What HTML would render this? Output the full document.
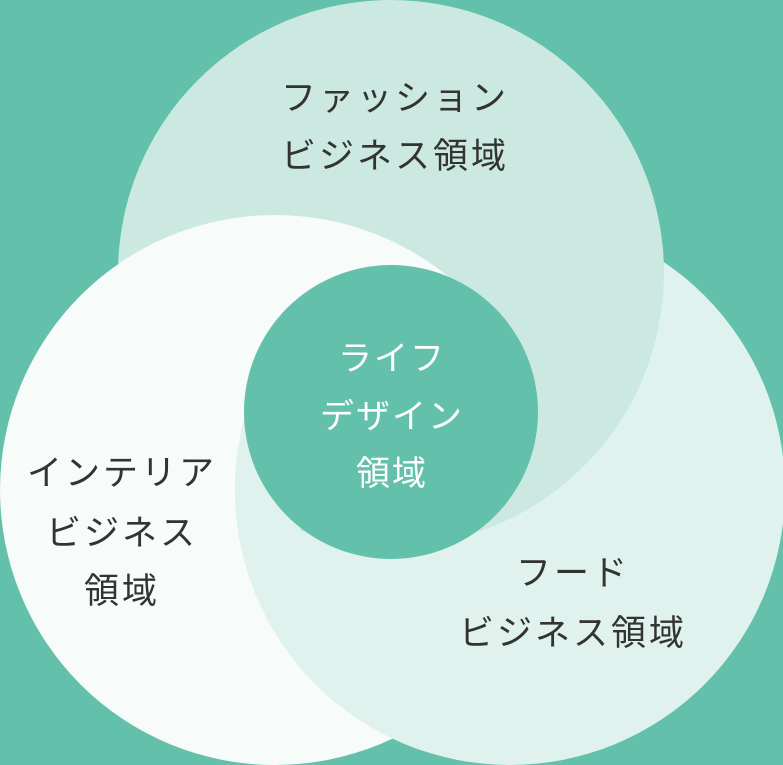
<!DOCTYPE html>
<html><head><meta charset="utf-8"><style>
html,body{margin:0;padding:0;background:#63c0aa;}
svg{display:block}
text{font-family:"Liberation Sans","Noto Sans CJK JP",sans-serif;font-size:34px;text-anchor:middle;letter-spacing:2px}
.d text{font-size:35px;letter-spacing:3px}
</style></head><body>
<svg width="783" height="765" viewBox="0 0 783 765">
<defs>
<clipPath id="r"><circle cx="510" cy="490" r="275"/></clipPath>
<clipPath id="f"><circle cx="391" cy="273" r="272"/></clipPath>
<clipPath id="t"><rect x="0" y="0" width="470" height="330"/></clipPath>
<clipPath id="b"><rect x="0" y="330" width="300" height="435"/></clipPath>
</defs>
<rect width="783" height="765" fill="#63c0aa"/>
<circle cx="391" cy="273" r="273" fill="#cbe9e1"/>
<circle cx="275" cy="490" r="275" fill="#f7fbfa"/>
<circle cx="510" cy="490" r="275" fill="#dff2ed"/>
<circle cx="391" cy="273" r="273" fill="#cbe9e1" clip-path="url(#r)"/>
<g clip-path="url(#t)"><g clip-path="url(#r)"><circle cx="275" cy="490" r="275" fill="#f7fbfa" clip-path="url(#f)"/></g></g>
<g clip-path="url(#b)"><circle cx="510" cy="490" r="275" fill="#dff2ed"/></g>
<circle cx="391" cy="412" r="147" fill="#63c0aa"/>
<g fill="#333" class="d">
<text x="395" y="110">ファッション</text>
<text x="395" y="168">ビジネス領域</text>
<text x="122" y="485">インテリア</text>
<text x="122" y="545">ビジネス</text>
<text x="122" y="603">領域</text>
<text x="573" y="585">フード</text>
<text x="573" y="645">ビジネス領域</text>
</g>
<g fill="#fff">
<text x="392" y="370">ライフ</text>
<text x="392" y="428">デザイン</text>
<text x="392" y="485">領域</text>
</g>
</svg>
</body></html>
